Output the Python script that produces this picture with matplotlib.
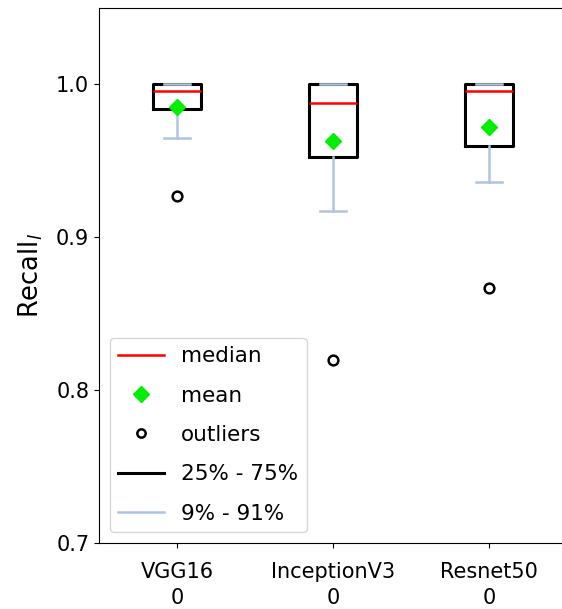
import matplotlib
matplotlib.use('Agg')
import matplotlib.pyplot as plt
from matplotlib.lines import Line2D

# model names and per-model statistics
models = ['VGG16', 'InceptionV3', 'Resnet50']
sublabels = ['0', '0', '0']
q1 = [0.9837, 0.9527, 0.9600]
q3 = [1.0, 1.0, 1.0]
medians = [0.996, 0.988, 0.996]
means = [0.9855, 0.963, 0.972]
whis_lo = [0.9647, 0.917, 0.936]   # 9th percentile
whis_hi = [1.0, 1.0, 1.0]          # 91st percentile
outliers = [[0.927], [0.820], [0.8668]]

stats = []
for i in range(len(models)):
    stats.append({'label': models[i] + '\n' + sublabels[i],
                  'q1': q1[i], 'q3': q3[i], 'med': medians[i], 'mean': means[i],
                  'whislo': whis_lo[i], 'whishi': whis_hi[i], 'fliers': outliers[i]})

box_col = 'black'
whis_col = '#b0c4de'

fig = plt.figure(figsize=(5.62, 6.09), dpi=100)
ax = fig.add_axes([99 / 562, 1 - 543 / 609, 468 / 562, 535 / 609])

ax.bxp(stats, widths=0.31, capwidths=0.17, showmeans=True,
       boxprops=dict(color=box_col, linewidth=2.2),
       whiskerprops=dict(color=whis_col, linewidth=1.8),
       capprops=dict(color=whis_col, linewidth=1.8),
       medianprops=dict(color='red', linewidth=1.8),
       meanprops=dict(marker='D', markerfacecolor='#00ee00', markeredgecolor='#00ee00', markersize=8),
       flierprops=dict(marker='o', markerfacecolor='none', markeredgecolor='black',
                       markeredgewidth=1.8, markersize=7))

ax.set_xlim(0.5, 3.5)
ax.set_ylim(0.7, 1.05)
ax.set_yticks([0.7, 0.8, 0.9, 1.0])
ax.tick_params(labelsize=15)
ax.tick_params(axis='x', pad=10)
for lab in ax.get_xticklabels():
    lab.set_linespacing(1.4)
ax.set_ylabel(r'Recall$_l$', fontsize=18.5, labelpad=8)

handles = [Line2D([], [], color='red', linewidth=1.8),
           Line2D([], [], color='#00ee00', marker='D', linestyle='none', markersize=8),
           Line2D([], [], color='black', marker='o', markerfacecolor='none', linestyle='none',
                  markeredgewidth=1.8, markersize=6),
           Line2D([], [], color=box_col, linewidth=2.2),
           Line2D([], [], color=whis_col, linewidth=1.8)]
names = ['median', 'mean', 'outliers', '25% - 75%', '9% - 91%']
ax.legend(handles, names, loc='lower left', fontsize=15.5, labelspacing=0.9,
          handlelength=2.1, handletextpad=0.8)

fig.savefig('out.png', dpi=100)
